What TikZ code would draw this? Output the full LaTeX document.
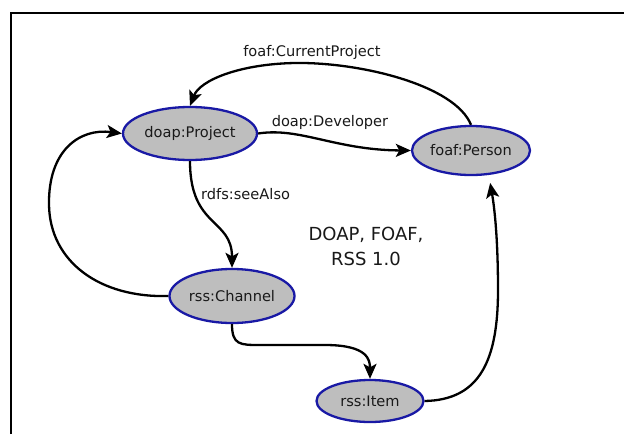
\documentclass[tikz,border=0pt]{standalone}
\usepackage{fontspec}
\setmainfont{DejaVu Sans}
\usetikzlibrary{arrows.meta,shapes.geometric}
\definecolor{nodefill}{RGB}{190,190,190}
\definecolor{nodeborder}{RGB}{25,25,165}
\definecolor{txt}{RGB}{25,25,25}
\tikzset{
  res/.style={ellipse, draw=nodeborder, fill=nodefill, line width=2.3pt, inner sep=0pt,
    text=txt, font=\fontsize{14.6}{17}\selectfont},
  rel/.style={draw=black, line width=2.3pt, -{Stealth[length=15pt,width=13pt,inset=3.5pt]}},
  lbl/.style={text=txt, font=\fontsize{14.6}{17}\selectfont, inner sep=0pt},
  title/.style={text=txt, font=\fontsize{18}{25}\selectfont, align=center, inner sep=0pt}
}
\begin{document}
\begin{tikzpicture}[x=1pt,y=-1pt]
\useasboundingbox (0,0) rectangle (624,434);
\fill[white] (0,0) rectangle (624,434);
\draw[line width=2.5pt] (11,434) -- (11,13) -- (624,13);

\node[res, minimum width=134pt, minimum height=53pt] (proj) at (190,133.5) {doap:Project};
\node[res, minimum width=118pt, minimum height=49pt] (person) at (471,150.5) {foaf:Person};
\node[res, minimum width=125pt, minimum height=54pt] (channel) at (232,296) {rss:Channel};
\node[res, minimum width=107pt, minimum height=42pt] (item) at (370,401) {rss:Item};

\draw[rel] (proj.east) .. controls (300,127) and (335,150) .. (person.west);
\draw[rel] (person.north) .. controls (455,85) and (360,62) .. (295,63)
  .. controls (240,64) and (200,80) .. (proj.north);
\draw[rel] (proj.south) .. controls (190,228) and (232,218) .. (channel.north);
\draw[rel] (channel.west) .. controls (100,298) and (50,262) .. (49,205)
  .. controls (48,150) and (80,128) .. (proj.west);
\draw[rel] (channel.south) .. controls (232,345) and (240,345) .. (260,345) -- (325,345)
  .. controls (368,345) and (370,360) .. (item.north);
\draw[rel, shorten >=8pt] (item.east) .. controls (480,400) and (498,360) .. (498,290)
  .. controls (498,235) and (494,205) .. (person.-54);

\node[lbl] (lcp) at (312,52) {foaf:CurrentProject};
\node[lbl] (ldev) at (330,122) {doap:Developer};
\node[lbl, anchor=west] (lsee) at (201,194) {rdfs:seeAlso};
\node[title] (ttl) at (366,246) {DOAP, FOAF,\\RSS 1.0};
\end{tikzpicture}
\end{document}
